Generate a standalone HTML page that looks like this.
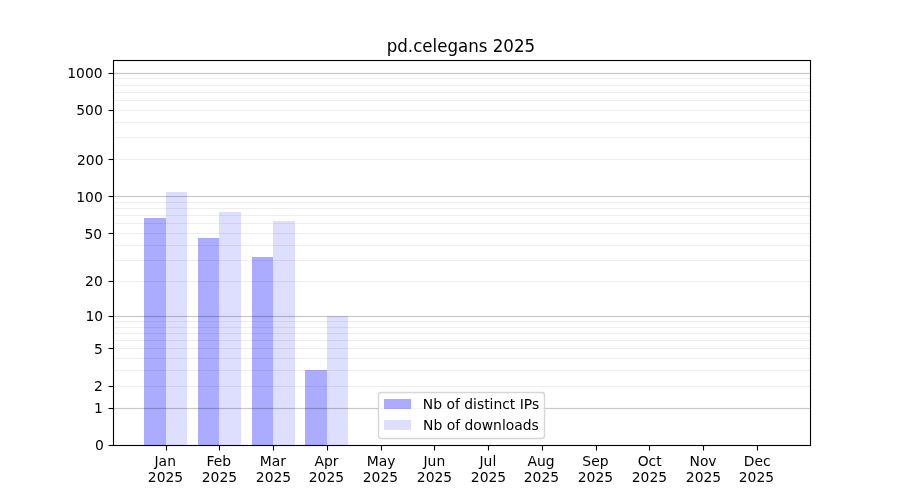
<!DOCTYPE html>
<html lang="en"><head><meta charset="utf-8"><title>pd.celegans 2025</title>
<style>
html,body{margin:0;padding:0;background:#fff;}
body{width:900px;height:500px;overflow:hidden;}
svg{display:block;position:absolute;left:0;top:0;}
text{font-family:"DejaVu Sans","Liberation Sans",sans-serif;font-size:13.889px;fill:#000;}
.t{font-size:16.667px;}
.c{shape-rendering:crispEdges;}
</style></head><body>
<svg width="900" height="500" viewBox="0 0 900 500">
<rect width="900" height="500" fill="#fff"/>
<g class="c">
<rect x="144" y="218" width="22" height="227" fill="#0000ff" fill-opacity="0.33"/>
<rect x="166" y="192" width="21" height="253" fill="#0000ff" fill-opacity="0.13"/>
<rect x="198" y="238" width="21" height="207" fill="#0000ff" fill-opacity="0.33"/>
<rect x="219" y="212" width="22" height="233" fill="#0000ff" fill-opacity="0.13"/>
<rect x="252" y="257" width="21" height="188" fill="#0000ff" fill-opacity="0.33"/>
<rect x="273" y="221" width="22" height="224" fill="#0000ff" fill-opacity="0.13"/>
<rect x="305" y="370" width="22" height="75" fill="#0000ff" fill-opacity="0.33"/>
<rect x="327" y="316" width="21" height="129" fill="#0000ff" fill-opacity="0.13"/>
<rect x="114" y="386" width="696" height="1" fill="#000" fill-opacity="0.065"/>
<rect x="114" y="370" width="696" height="1" fill="#000" fill-opacity="0.065"/>
<rect x="114" y="358" width="696" height="1" fill="#000" fill-opacity="0.065"/>
<rect x="114" y="348" width="696" height="1" fill="#000" fill-opacity="0.065"/>
<rect x="114" y="340" width="696" height="1" fill="#000" fill-opacity="0.065"/>
<rect x="114" y="333" width="696" height="1" fill="#000" fill-opacity="0.065"/>
<rect x="114" y="327" width="696" height="1" fill="#000" fill-opacity="0.065"/>
<rect x="114" y="321" width="696" height="1" fill="#000" fill-opacity="0.065"/>
<rect x="114" y="281" width="696" height="1" fill="#000" fill-opacity="0.065"/>
<rect x="114" y="260" width="696" height="1" fill="#000" fill-opacity="0.065"/>
<rect x="114" y="245" width="696" height="1" fill="#000" fill-opacity="0.065"/>
<rect x="114" y="233" width="696" height="1" fill="#000" fill-opacity="0.065"/>
<rect x="114" y="223" width="696" height="1" fill="#000" fill-opacity="0.065"/>
<rect x="114" y="215" width="696" height="1" fill="#000" fill-opacity="0.065"/>
<rect x="114" y="208" width="696" height="1" fill="#000" fill-opacity="0.065"/>
<rect x="114" y="202" width="696" height="1" fill="#000" fill-opacity="0.065"/>
<rect x="114" y="159" width="696" height="1" fill="#000" fill-opacity="0.065"/>
<rect x="114" y="137" width="696" height="1" fill="#000" fill-opacity="0.065"/>
<rect x="114" y="122" width="696" height="1" fill="#000" fill-opacity="0.065"/>
<rect x="114" y="110" width="696" height="1" fill="#000" fill-opacity="0.065"/>
<rect x="114" y="100" width="696" height="1" fill="#000" fill-opacity="0.065"/>
<rect x="114" y="92" width="696" height="1" fill="#000" fill-opacity="0.065"/>
<rect x="114" y="85" width="696" height="1" fill="#000" fill-opacity="0.065"/>
<rect x="114" y="78" width="696" height="1" fill="#000" fill-opacity="0.065"/>
<rect x="114" y="408" width="696" height="1" fill="#000" fill-opacity="0.2"/>
<rect x="114" y="407" width="696" height="3" fill="#000" fill-opacity="0.02"/>
<rect x="114" y="316" width="696" height="1" fill="#000" fill-opacity="0.2"/>
<rect x="114" y="315" width="696" height="3" fill="#000" fill-opacity="0.02"/>
<rect x="114" y="196" width="696" height="1" fill="#000" fill-opacity="0.2"/>
<rect x="114" y="195" width="696" height="3" fill="#000" fill-opacity="0.02"/>
<rect x="114" y="73" width="696" height="1" fill="#000" fill-opacity="0.2"/>
<rect x="114" y="72" width="696" height="3" fill="#000" fill-opacity="0.02"/>
</g>
<rect x="378.5" y="392.5" width="166.0" height="46.0" rx="2.8" ry="2.8" fill="#fff" fill-opacity="0.8" stroke="#ccc" stroke-opacity="0.8" stroke-width="1.39"/>
<g class="c">
<rect x="384" y="399" width="27" height="10" fill="#0000ff" fill-opacity="0.33"/>
<rect x="384" y="420" width="27" height="10" fill="#0000ff" fill-opacity="0.13"/>
<rect x="113" y="59" width="698" height="1" fill="#000" fill-opacity="0.055"/>
<rect x="113" y="61" width="698" height="1" fill="#000" fill-opacity="0.055"/>
<rect x="113" y="444" width="698" height="1" fill="#000" fill-opacity="0.055"/>
<rect x="113" y="446" width="698" height="1" fill="#000" fill-opacity="0.055"/>
<rect x="112" y="60" width="1" height="386" fill="#000" fill-opacity="0.055"/>
<rect x="114" y="60" width="1" height="386" fill="#000" fill-opacity="0.055"/>
<rect x="809" y="60" width="1" height="386" fill="#000" fill-opacity="0.055"/>
<rect x="811" y="60" width="1" height="386" fill="#000" fill-opacity="0.055"/>
<rect x="113" y="60" width="698" height="1" fill="#000"/>
<rect x="113" y="445" width="698" height="1" fill="#000"/>
<rect x="113" y="60" width="1" height="386" fill="#000"/>
<rect x="810" y="60" width="1" height="386" fill="#000"/>
<rect x="165" y="446" width="3" height="4" fill="#000" fill-opacity="0.055"/>
<rect x="166" y="446" width="1" height="4" fill="#000"/>
<rect x="166" y="450" width="1" height="1" fill="#000" fill-opacity="0.5"/>
<rect x="218" y="446" width="3" height="4" fill="#000" fill-opacity="0.055"/>
<rect x="219" y="446" width="1" height="4" fill="#000"/>
<rect x="219" y="450" width="1" height="1" fill="#000" fill-opacity="0.5"/>
<rect x="272" y="446" width="3" height="4" fill="#000" fill-opacity="0.055"/>
<rect x="273" y="446" width="1" height="4" fill="#000"/>
<rect x="273" y="450" width="1" height="1" fill="#000" fill-opacity="0.5"/>
<rect x="326" y="446" width="3" height="4" fill="#000" fill-opacity="0.055"/>
<rect x="327" y="446" width="1" height="4" fill="#000"/>
<rect x="327" y="450" width="1" height="1" fill="#000" fill-opacity="0.5"/>
<rect x="380" y="446" width="3" height="4" fill="#000" fill-opacity="0.055"/>
<rect x="381" y="446" width="1" height="4" fill="#000"/>
<rect x="381" y="450" width="1" height="1" fill="#000" fill-opacity="0.5"/>
<rect x="433" y="446" width="3" height="4" fill="#000" fill-opacity="0.055"/>
<rect x="434" y="446" width="1" height="4" fill="#000"/>
<rect x="434" y="450" width="1" height="1" fill="#000" fill-opacity="0.5"/>
<rect x="487" y="446" width="3" height="4" fill="#000" fill-opacity="0.055"/>
<rect x="488" y="446" width="1" height="4" fill="#000"/>
<rect x="488" y="450" width="1" height="1" fill="#000" fill-opacity="0.5"/>
<rect x="541" y="446" width="3" height="4" fill="#000" fill-opacity="0.055"/>
<rect x="542" y="446" width="1" height="4" fill="#000"/>
<rect x="542" y="450" width="1" height="1" fill="#000" fill-opacity="0.5"/>
<rect x="595" y="446" width="3" height="4" fill="#000" fill-opacity="0.055"/>
<rect x="596" y="446" width="1" height="4" fill="#000"/>
<rect x="596" y="450" width="1" height="1" fill="#000" fill-opacity="0.5"/>
<rect x="648" y="446" width="3" height="4" fill="#000" fill-opacity="0.055"/>
<rect x="649" y="446" width="1" height="4" fill="#000"/>
<rect x="649" y="450" width="1" height="1" fill="#000" fill-opacity="0.5"/>
<rect x="702" y="446" width="3" height="4" fill="#000" fill-opacity="0.055"/>
<rect x="703" y="446" width="1" height="4" fill="#000"/>
<rect x="703" y="450" width="1" height="1" fill="#000" fill-opacity="0.5"/>
<rect x="756" y="446" width="3" height="4" fill="#000" fill-opacity="0.055"/>
<rect x="757" y="446" width="1" height="4" fill="#000"/>
<rect x="757" y="450" width="1" height="1" fill="#000" fill-opacity="0.5"/>
<rect x="109" y="444" width="4" height="3" fill="#000" fill-opacity="0.055"/>
<rect x="109" y="445" width="4" height="1" fill="#000"/>
<rect x="108" y="445" width="1" height="1" fill="#000" fill-opacity="0.5"/>
<rect x="109" y="407" width="4" height="3" fill="#000" fill-opacity="0.055"/>
<rect x="109" y="408" width="4" height="1" fill="#000"/>
<rect x="108" y="408" width="1" height="1" fill="#000" fill-opacity="0.5"/>
<rect x="109" y="385" width="4" height="3" fill="#000" fill-opacity="0.055"/>
<rect x="109" y="386" width="4" height="1" fill="#000"/>
<rect x="108" y="386" width="1" height="1" fill="#000" fill-opacity="0.5"/>
<rect x="109" y="347" width="4" height="3" fill="#000" fill-opacity="0.055"/>
<rect x="109" y="348" width="4" height="1" fill="#000"/>
<rect x="108" y="348" width="1" height="1" fill="#000" fill-opacity="0.5"/>
<rect x="109" y="315" width="4" height="3" fill="#000" fill-opacity="0.055"/>
<rect x="109" y="316" width="4" height="1" fill="#000"/>
<rect x="108" y="316" width="1" height="1" fill="#000" fill-opacity="0.5"/>
<rect x="109" y="280" width="4" height="3" fill="#000" fill-opacity="0.055"/>
<rect x="109" y="281" width="4" height="1" fill="#000"/>
<rect x="108" y="281" width="1" height="1" fill="#000" fill-opacity="0.5"/>
<rect x="109" y="232" width="4" height="3" fill="#000" fill-opacity="0.055"/>
<rect x="109" y="233" width="4" height="1" fill="#000"/>
<rect x="108" y="233" width="1" height="1" fill="#000" fill-opacity="0.5"/>
<rect x="109" y="195" width="4" height="3" fill="#000" fill-opacity="0.055"/>
<rect x="109" y="196" width="4" height="1" fill="#000"/>
<rect x="108" y="196" width="1" height="1" fill="#000" fill-opacity="0.5"/>
<rect x="109" y="158" width="4" height="3" fill="#000" fill-opacity="0.055"/>
<rect x="109" y="159" width="4" height="1" fill="#000"/>
<rect x="108" y="159" width="1" height="1" fill="#000" fill-opacity="0.5"/>
<rect x="109" y="109" width="4" height="3" fill="#000" fill-opacity="0.055"/>
<rect x="109" y="110" width="4" height="1" fill="#000"/>
<rect x="108" y="110" width="1" height="1" fill="#000" fill-opacity="0.5"/>
<rect x="109" y="72" width="4" height="3" fill="#000" fill-opacity="0.055"/>
<rect x="109" y="73" width="4" height="1" fill="#000"/>
<rect x="108" y="73" width="1" height="1" fill="#000" fill-opacity="0.5"/>
</g>
<text class="t" x="460.9" y="52" text-anchor="middle" transform="translate(0 52) scale(1 1.08) translate(0 -52)">pd.celegans 2025</text>
<text x="165.24" y="466" text-anchor="middle">Jan</text>
<text x="165.48" y="482" text-anchor="middle">2025</text>
<text x="218.88" y="466" text-anchor="middle">Feb</text>
<text x="219.44" y="482" text-anchor="middle">2025</text>
<text x="272.90" y="466" text-anchor="middle">Mar</text>
<text x="273.47" y="482" text-anchor="middle">2025</text>
<text x="326.45" y="466" text-anchor="middle">Apr</text>
<text x="326.45" y="482" text-anchor="middle">2025</text>
<text x="381.03" y="466" text-anchor="middle">May</text>
<text x="380.43" y="482" text-anchor="middle">2025</text>
<text x="434.38" y="466" text-anchor="middle">Jun</text>
<text x="434.48" y="482" text-anchor="middle">2025</text>
<text x="487.92" y="466" text-anchor="middle">Jul</text>
<text x="488.48" y="482" text-anchor="middle">2025</text>
<text x="541.01" y="466" text-anchor="middle">Aug</text>
<text x="541.45" y="482" text-anchor="middle">2025</text>
<text x="595.44" y="466" text-anchor="middle">Sep</text>
<text x="595.43" y="482" text-anchor="middle">2025</text>
<text x="649.68" y="466" text-anchor="middle">Oct</text>
<text x="649.43" y="482" text-anchor="middle">2025</text>
<text x="703.06" y="466" text-anchor="middle">Nov</text>
<text x="703.47" y="482" text-anchor="middle">2025</text>
<text x="757.28" y="466" text-anchor="middle">Dec</text>
<text x="756.46" y="482" text-anchor="middle">2025</text>
<text x="103.72" y="450" text-anchor="end">0</text>
<text x="102.78" y="413" text-anchor="end">1</text>
<text x="102.78" y="391" text-anchor="end">2</text>
<text x="102.78" y="354" text-anchor="end">5</text>
<text x="103.20" y="321" text-anchor="end">10</text>
<text x="102.78" y="286" text-anchor="end">20</text>
<text x="102.17" y="239" text-anchor="end">50</text>
<text x="102.78" y="202" text-anchor="end">100</text>
<text x="103.52" y="165" text-anchor="end">200</text>
<text x="102.78" y="115" text-anchor="end">500</text>
<text x="102.55" y="78" text-anchor="end">1000</text>
<text x="422.86" y="409">Nb of distinct IPs</text>
<text x="423.09" y="430">Nb of downloads</text>
</svg>
</body></html>
